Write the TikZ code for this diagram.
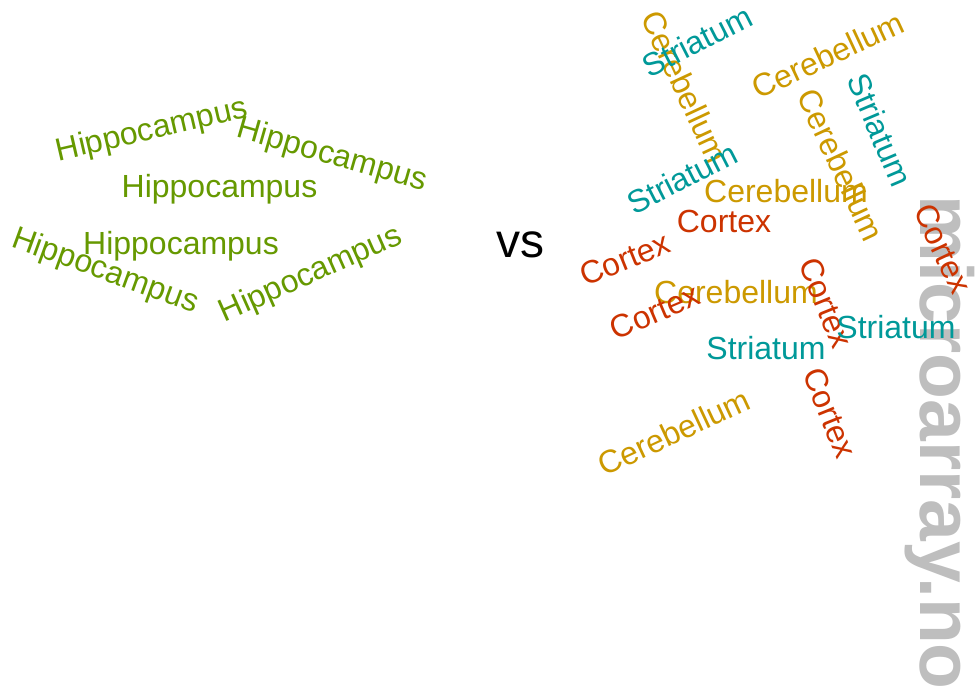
\documentclass[tikz,border=0pt]{standalone}
\usepackage{fontspec}
\setmainfont{Liberation Sans}
\definecolor{hip}{HTML}{669900}
\definecolor{ctx}{HTML}{CC3300}
\definecolor{str}{HTML}{009999}
\definecolor{cer}{HTML}{CC9900}
\definecolor{wm}{HTML}{BEBEBE}
\begin{document}
\begin{tikzpicture}[x=1pt,y=-1pt,
  word/.style={inner sep=0pt,anchor=center,font=\fontsize{32}{32}\selectfont},
  hipw/.style={word,text=hip},
  ctxw/.style={word,text=ctx},
  strw/.style={word,text=str},
  cerw/.style={word,text=cer}]
\useasboundingbox[fill=white] (0,0) rectangle (975,693);
% watermark
\node[inner sep=0pt,anchor=base west,rotate=-90,text=wm,font=\fontsize{75}{75}\selectfont\bfseries] (wmark) at (920,195) {microarray.no};
% left side
\node[hipw,rotate=13] (h1) at (152,131) {Hippocampus};
\node[hipw,rotate=-16] (h2) at (332,156) {Hippocampus};
\node[hipw] (h3) at (219.5,189) {Hippocampus};
\node[hipw] (h4) at (181,246.5) {Hippocampus};
\node[hipw,rotate=-20] (h5) at (105,272) {Hippocampus};
\node[hipw,rotate=24] (h6) at (311,275) {Hippocampus};
% vs
\node[inner sep=0pt,font=\fontsize{48}{48}\selectfont] (vs) at (520,245) {vs};
% right side
\node[cerw,rotate=-65] (a) at (685,87) {Cerebellum};
\node[strw,rotate=27] (b) at (697,41) {Striatum};
\node[cerw,rotate=25] (c) at (828,55) {Cerebellum};
\node[cerw,rotate=-65] (d) at (841,165) {Cerebellum};
\node[strw,rotate=-67] (e) at (880,130) {Striatum};
\node[strw,rotate=27] (f) at (682,178) {Striatum};
\node[cerw] (g) at (786,191) {Cerebellum};
\node[ctxw] (hh) at (724,221) {Cortex};
\node[ctxw,rotate=22] (i) at (625,259) {Cortex};
\node[cerw] (j) at (736,292) {Cerebellum};
\node[ctxw,rotate=23] (k) at (655,312) {Cortex};
\node[ctxw,rotate=-68] (l) at (826,303) {Cortex};
\node[strw] (m) at (896,327) {Striatum};
\node[strw] (n) at (766,348) {Striatum};
\node[ctxw,rotate=-68] (o) at (830,413) {Cortex};
\node[cerw,rotate=25] (p) at (674,432) {Cerebellum};
\node[ctxw,rotate=-65] (q) at (943,249) {Cortex};
\end{tikzpicture}
\end{document}
